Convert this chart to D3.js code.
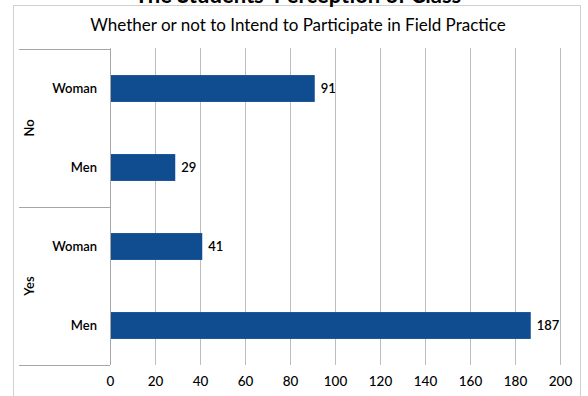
<!DOCTYPE html>
<html>
<head>
<meta charset="utf-8">
<script src="https://cdn.jsdelivr.net/npm/d3@7"></script>
<style>
  html, body { margin: 0; padding: 0; background: #fff; }
  svg { display: block; font-family: Lato, "Open Sans", sans-serif; }
</style>
</head>
<body>
<svg id="chart" width="588" height="396"></svg>
<script>
// Responses grouped by intention (No / Yes) and gender
const groups = ["No", "Yes"];
const categories = ["Woman", "Men", "Woman", "Men"];
const categoryGroup = ["No", "No", "Yes", "Yes"];
const values = [91, 29, 41, 187];
const xTicks = [0, 20, 40, 60, 80, 100, 120, 140, 160, 180, 200];

const svg = d3.select("#chart");
const W = 588, H = 396;
const margin = { left: 110, right: 28, top: 48, bottom: 31 };
const boxLeft = 19;

// Outer chart frame
svg.append("rect")
  .attr("x", 13.5).attr("y", 5.5)
  .attr("width", 567).attr("height", 400)
  .attr("fill", "none").attr("stroke", "#d0d0d0").attr("stroke-width", 1);

// Main heading, mostly hidden above the top edge
svg.append("text")
  .attr("x", 298).attr("y", 3)
  .attr("text-anchor", "middle")
  .attr("font-size", 22).attr("font-weight", 700)
  .attr("fill", "#000")
  .text("The Students' Perception of Class");

// Chart title
svg.append("text")
  .attr("x", 298).attr("y", 31)
  .attr("text-anchor", "middle")
  .attr("font-size", 17)
  .attr("fill", "#000")
  .text("Whether or not to Intend to Participate in Field Practice");

const x = d3.scaleLinear().domain([0, 200]).range([margin.left, W - margin.right]);
const keys = values.map((v, i) => i);
const y = d3.scaleBand().domain(keys).range([margin.top + 1, H - margin.bottom]).paddingInner(0.66).paddingOuter(0.33);

// Vertical gridlines
svg.append("g").selectAll("line").data(xTicks).join("line")
  .attr("x1", d => Math.round(x(d)) + 0.5).attr("x2", d => Math.round(x(d)) + 0.5)
  .attr("y1", margin.top).attr("y2", H - margin.bottom)
  .attr("stroke", "#bdbdbd").attr("stroke-width", 1);

// X axis labels
const xAxis = d3.axisBottom(x).tickValues(xTicks).tickSize(0).tickPadding(0);
const gx = svg.append("g").attr("transform", `translate(0,${H - margin.bottom + 11})`).call(xAxis);
gx.select(".domain").remove();
gx.selectAll("text").attr("font-size", 13.5).attr("font-weight", 500).attr("fill", "#000")
  .attr("font-family", "Lato, 'Open Sans', sans-serif").attr("dy", "0.71em");

// Bars
svg.append("g").selectAll("rect").data(keys).join("rect")
  .attr("x", x(0) + 1)
  .attr("y", i => y(i))
  .attr("width", i => x(values[i]) - x(0) - 1)
  .attr("height", y.bandwidth())
  .attr("fill", "#0f4c90");

// Value labels
svg.append("g").selectAll("text").data(keys).join("text")
  .attr("x", i => x(values[i]) + 6)
  .attr("y", i => y(i) + y.bandwidth() / 2)
  .attr("dy", "0.35em")
  .attr("font-size", 13).attr("font-weight", 600)
  .attr("fill", "#000")
  .text(i => values[i]);

// Category axis: labels and group boxes
const yTop = margin.top + 1, yBot = H - margin.bottom;
const step = y.step();
svg.append("g").selectAll("text").data(keys).join("text")
  .attr("x", 97)
  .attr("y", i => y(i) + y.bandwidth() / 2)
  .attr("dy", "0.35em")
  .attr("text-anchor", "end")
  .attr("font-size", 13).attr("font-weight", 600)
  .attr("fill", "#000")
  .text(i => categories[i]);

// Group separators
const groupBounds = groups.map(g => {
  const idx = keys.filter(i => categoryGroup[i] === g);
  const top = y(idx[0]) - step * y.paddingInner() / 2;
  const bot = y(idx[idx.length - 1]) + y.bandwidth() + step * y.paddingInner() / 2;
  return { g, top, bot };
});
const sepYs = [yTop, ...groupBounds.slice(0, -1).map(b => b.bot), yBot];
svg.append("g").selectAll("line").data(sepYs).join("line")
  .attr("x1", boxLeft).attr("x2", margin.left)
  .attr("y1", d => Math.round(d) + 0.5).attr("y2", d => Math.round(d) + 0.5)
  .attr("stroke", "#a6a6a6");
svg.append("line")
  .attr("x1", margin.left + 0.5).attr("x2", margin.left + 0.5)
  .attr("y1", yTop).attr("y2", yBot)
  .attr("stroke", "#a6a6a6");

svg.append("g").selectAll("text").data(groupBounds).join("text")
  .attr("transform", d => `translate(34,${(d.top + d.bot) / 2}) rotate(-90)`)
  .attr("text-anchor", "middle")
  .attr("font-size", 13).attr("font-weight", 600)
  .attr("fill", "#000")
  .text(d => d.g);
</script>
</body>
</html>
